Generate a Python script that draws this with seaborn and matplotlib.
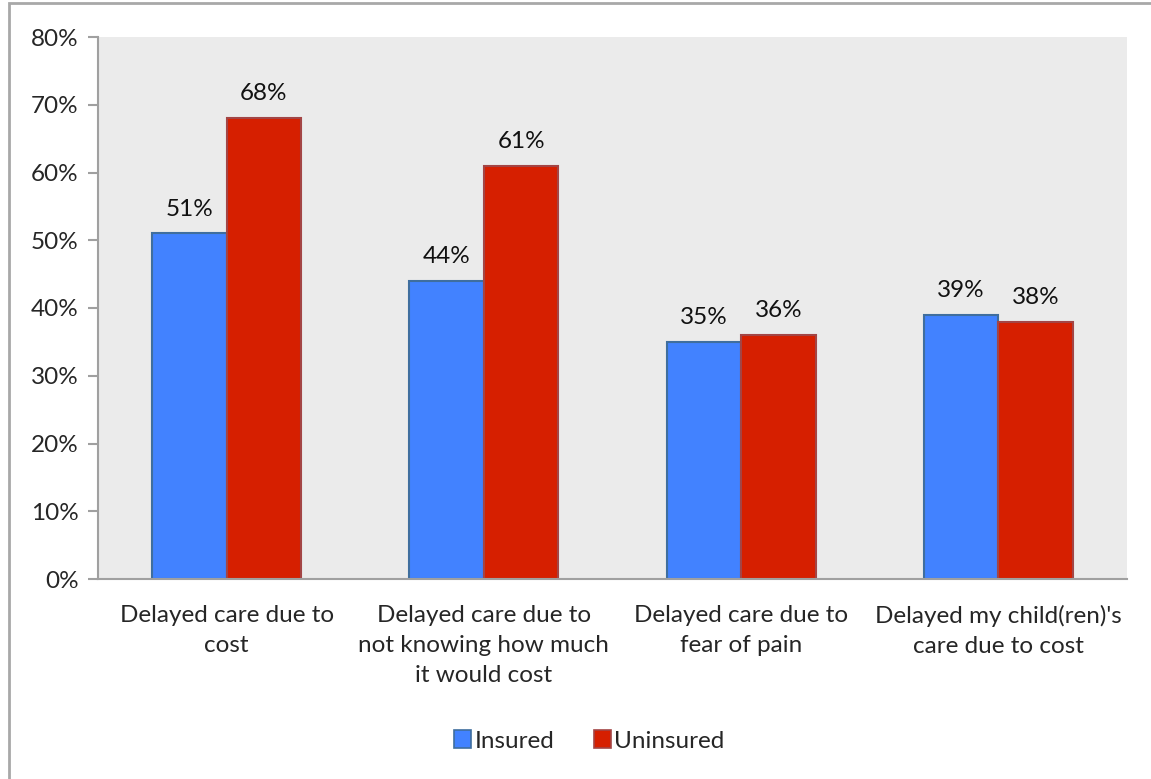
import matplotlib
matplotlib.use("Agg")
import matplotlib.pyplot as plt
from matplotlib.patches import Rectangle
from matplotlib.ticker import MultipleLocator, FuncFormatter
import seaborn as sns
import pandas as pd

categories = [
    "Delayed care due to\ncost",
    "Delayed care due to\nnot knowing how much\nit would cost",
    "Delayed care due to\nfear of pain",
    "Delayed my child(ren)'s\ncare due to cost",
]
insured = [51, 44, 35, 39]
uninsured = [68, 61, 36, 38]
groups = ["Insured", "Uninsured"]

colors = {"Insured": "#4282FF", "Uninsured": "#D61F00"}
edges = {"Insured": "#3F6E9E", "Uninsured": "#A34545"}

df = pd.DataFrame({
    "category": categories * 2,
    "group": [groups[0]] * 4 + [groups[1]] * 4,
    "value": insured + uninsured,
})

sns.set_style("white")
plt.rcParams["font.family"] = ["Lato", "DejaVu Sans"]
FS = 17.5

W, H = 1151, 779
fig = plt.figure(figsize=(W / 100, H / 100), dpi=100)
ax = fig.add_axes([98 / W, 1 - 579 / H, (1127 - 98) / W, (579 - 37) / H])

sns.barplot(data=df, x="category", y="value", hue="group", hue_order=groups,
            palette=colors, width=0.58, gap=0, ax=ax, legend=False,
            linewidth=1.5, saturation=1)

for cont, g in zip(ax.containers, groups):
    for bar in cont:
        bar.set_edgecolor(edges[g])
    ax.bar_label(cont, labels=[f"{v:.0f}%" for v in cont.datavalues],
                 padding=10, fontsize=FS, color="#111111")

ax.set_facecolor("#EBEBEB")
ax.set_xlim(-0.5, 3.5)
ax.set_ylim(0, 80)
ax.yaxis.set_major_locator(MultipleLocator(10))
ax.yaxis.set_major_formatter(FuncFormatter(lambda v, p: f"{v:.0f}%"))
ax.set_xlabel("")
ax.set_ylabel("")

for side in ("top", "right"):
    ax.spines[side].set_visible(False)
for side in ("left", "bottom"):
    ax.spines[side].set_color("#A0A0A0")
    ax.spines[side].set_linewidth(1.5)

# ticks between categories on x, outward marks on y
ax.set_xticks(range(len(categories)))
ax.set_xticklabels(categories, fontsize=FS, linespacing=1.52)
ax.tick_params(axis="x", length=0, pad=19)
ax.set_xticks([-0.5, 0.5, 1.5, 2.5, 3.5], minor=True)
ax.tick_params(axis="x", which="minor", length=7, width=1.5, color="#A0A0A0", direction="out")
ax.tick_params(axis="y", length=7, width=1.5, color="#A0A0A0", direction="out",
               labelsize=FS, pad=7, left=True)

handles = [Rectangle((0, 0), 1, 1, facecolor=colors[g], edgecolor=edges[g], linewidth=1.2)
           for g in groups]
fig.legend(handles, groups, loc="center", bbox_to_anchor=(0.5 + 14 / W, 1 - 741 / H),
           ncol=2, frameon=False, fontsize=FS, handlelength=0.7, handleheight=0.7,
           handletextpad=0.15, columnspacing=1.6)

# chart-area border
fig.add_artist(Rectangle((9 / W, -0.1), 1.2, 1 - 3 / H + 0.1, transform=fig.transFigure,
                         fill=False, edgecolor="#A8A8A8", linewidth=2))

fig.savefig("out.png", dpi=100)
